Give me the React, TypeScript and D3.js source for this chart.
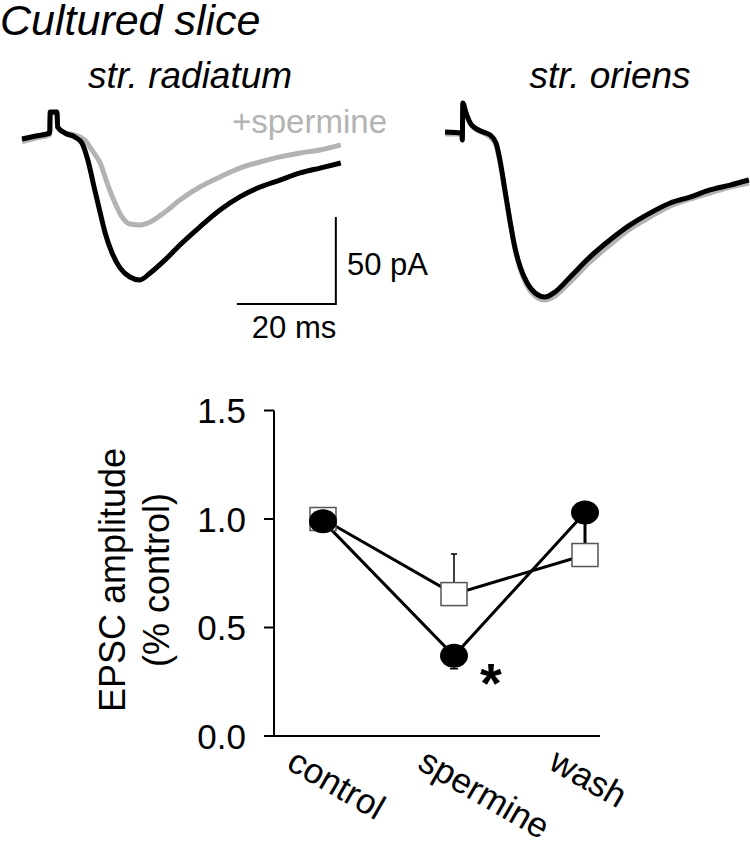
import * as d3 from 'd3';

// recordings, [time (ms), current (pA)]
const radiatumControl = [
  [0, 0], [2.8, 1.7], [5.6, 3.4], [5.7, 15.5], [7.07, 15.5], [7.2, 6.9], [8.7, 3.4],
  [10.7, 1.1], [12.1, -2.3], [13.3, -12.1], [14.7, -29.3], [15.8, -42.5], [16.8, -54.0],
  [18.2, -65.5], [19.8, -74.1], [21.8, -79.3], [23.8, -81.0], [25.9, -77.0], [28.9, -69.5],
  [31.9, -60.9], [35.9, -50.6], [40.0, -40.8], [44.0, -33.3], [48.1, -27.6], [52.1, -23.6],
  [56.2, -19.5], [60.2, -16.7], [64.4, -13.8],
];
const radiatumSpermine = [
  [0, -1.5], [2.8, 0.6], [5.6, 2.5], [5.7, 15.0], [7.07, 15.0], [7.2, 6.5], [8.7, 3.4],
  [10.7, 2.3], [12.7, -0.6], [14.1, -6.3], [15.8, -13.8], [17.2, -25.3], [18.8, -36.8],
  [20.2, -44.8], [21.8, -48.9], [23.8, -49.4], [25.9, -47.7], [28.9, -42.0], [31.9, -35.1],
  [35.9, -27.6], [40.0, -21.8], [44.0, -16.7], [48.1, -13.2], [52.1, -10.3], [56.2, -8.0],
  [60.2, -6.3], [64.4, -3.4],
];
const oriensControl = [
  [0, 0], [3.4, -0.6], [3.5, -4.6], [3.6, 16.7], [4.2, 11.5], [5.1, 5.2], [6.1, 2.3],
  [7.7, 0], [9.1, -1.7], [10.3, -6.3], [11.1, -16.1], [12.1, -33.3], [13.1, -50.6],
  [14.1, -66.1], [15.2, -77.6], [16.6, -86.8], [18.2, -92.5], [20.2, -94.8], [22.2, -92.0],
  [25.3, -83.3], [29.3, -71.8], [33.3, -62.1], [37.4, -53.4], [41.4, -46.6], [45.5, -40.8],
  [49.5, -37.4], [53.5, -33.3], [57.6, -30.5], [61.4, -27.6],
];
const oriensSpermine = [
  [0, -1.1], [3.4, -1.1], [3.5, -4.6], [3.6, 14.9], [4.2, 10.3], [5.1, 4.6], [6.1, 1.7],
  [7.7, -0.6], [9.1, -2.9], [10.3, -7.5], [11.1, -17.2], [12.1, -33.9], [13.1, -51.1],
  [14.1, -66.7], [15.2, -78.7], [16.6, -88.5], [18.2, -94.3], [20.2, -96.6], [22.2, -94.3],
  [25.3, -86.2], [29.3, -74.7], [33.3, -64.9], [37.4, -55.7], [41.4, -48.9], [45.5, -42.5],
  [49.5, -38.5], [53.5, -35.1], [57.6, -31.6], [61.4, -29.3],
];

// summary plot
const conditions = ['control', 'spermine', 'wash'];
const radiatumAmp = [0.99, 0.37, 1.03]; // filled circles
const radiatumSem = [0.01, 0.06, 0.15];
const oriensAmp = [1.0, 0.654, 0.834]; // open squares
const oriensSem = [0.01, 0.185, 0.02];
const yTicks = [0, 0.5, 1.0, 1.5];

const font = "'Liberation Sans', Arial, Helvetica, sans-serif";

export default function App() {
  const pxPerMs = 4.95;
  const pxPerPa = 1.74;

  const xL = d3.scaleLinear().domain([0, 64.4]).range([22, 22 + 64.4 * pxPerMs]);
  const yL = d3.scaleLinear().domain([0, -100]).range([139, 139 + 100 * pxPerPa]);
  const xR = d3.scaleLinear().domain([0, 61.4]).range([445, 445 + 61.4 * pxPerMs]);
  const yR = d3.scaleLinear().domain([0, -100]).range([132, 132 + 100 * pxPerPa]);

  const lineL = d3.line<number[]>().x(d => xL(d[0])).y(d => yL(d[1])).curve(d3.curveMonotoneX);
  const lineR = d3.line<number[]>().x(d => xR(d[0])).y(d => yR(d[1])).curve(d3.curveMonotoneX);

  // scale bar: 20 ms, 50 pA
  const sbT = [43.4, 63.4];
  const sbI = [-94.8, -44.8];

  const x = d3.scalePoint<string>().domain(conditions).range([323, 585]);
  const y = d3.scaleLinear().domain([0, 1.5]).range([736, 410.5]);
  const axisX = 274;

  const series = (vals: number[]) =>
    d3.line<number>().x((_, i) => x(conditions[i])!).y(d => y(d))(vals)!;

  return (
    <svg width={750} height={842} style={{ position: 'absolute', left: 0, top: 0, background: '#fff' }}
      fontFamily={font}>
      <text x={0} y={35} fontSize={43} fontStyle="italic">Cultured slice</text>
      <text x={190} y={88} fontSize={37} fontStyle="italic" textAnchor="middle">str. radiatum</text>
      <text x={610} y={88} fontSize={37} fontStyle="italic" textAnchor="middle">str. oriens</text>
      <text x={232} y={133} fontSize={33} fill="#b3b3b3">+spermine</text>

      <path d={lineL(radiatumSpermine)!} fill="none" stroke="#b3b3b3" strokeWidth={5} />
      <path d={lineL(radiatumControl)!} fill="none" stroke="#000" strokeWidth={5} />
      <path d={lineR(oriensSpermine)!} fill="none" stroke="#b3b3b3" strokeWidth={5} />
      <path d={lineR(oriensControl)!} fill="none" stroke="#000" strokeWidth={5} />

      <path d={`M${xL(sbT[0])},${yL(sbI[0])}H${xL(sbT[1])}V${yL(sbI[1])}`}
        fill="none" stroke="#000" strokeWidth={2} />
      <text x={347} y={275} fontSize={31}>50 pA</text>
      <text x={294} y={338} fontSize={31} textAnchor="middle">20 ms</text>

      {/* summary axes */}
      <line x1={axisX} x2={axisX} y1={y(1.5)} y2={y(0)} stroke="#000" strokeWidth={2} />
      <line x1={axisX - 10} x2={600} y1={y(0)} y2={y(0)} stroke="#000" strokeWidth={2} />
      {yTicks.map(t => (
        <g key={t}>
          <line x1={axisX - 10} x2={axisX} y1={y(t)} y2={y(t)} stroke="#000" strokeWidth={2} />
          <text x={246} y={y(t)} dy="0.36em" fontSize={35} textAnchor="end">{d3.format('.1f')(t)}</text>
        </g>
      ))}
      <text transform="translate(125,580) rotate(-90)" fontSize={36} textAnchor="middle">EPSC amplitude</text>
      <text transform="translate(169,580) rotate(-90)" fontSize={36} textAnchor="middle">(% control)</text>
      {conditions.map(c => (
        <text key={c} transform={`translate(${x(c)! - 38},768) rotate(30)`} fontSize={35}>{c}</text>
      ))}

      <path d={series(oriensAmp)} fill="none" stroke="#000" strokeWidth={3} />
      <path d={series(radiatumAmp)} fill="none" stroke="#000" strokeWidth={3} />

      {/* error bars: squares up, circles down */}
      {oriensAmp.map((v, i) => (
        <path key={'es' + i}
          d={`M${x(conditions[i])},${y(v)}V${y(v + oriensSem[i])}m-3,0h6`}
          fill="none" stroke="#000" strokeWidth={1.5} />
      ))}
      {radiatumAmp.map((v, i) => (
        <path key={'ec' + i}
          d={`M${x(conditions[i])},${y(v)}V${y(v - radiatumSem[i])}m-4,0h8`}
          fill="none" stroke="#000" strokeWidth={i === 2 ? 3 : 1.5} />
      ))}

      {oriensAmp.map((v, i) => (
        <rect key={'s' + i} x={x(conditions[i])! - 13} y={y(v) - 11.5} width={26} height={23}
          fill="#fff" stroke="#555" strokeWidth={1.5} />
      ))}
      {radiatumAmp.map((v, i) => (
        <ellipse key={'c' + i} cx={x(conditions[i])} cy={y(v)} rx={14} ry={12} fill="#000" />
      ))}

      <text x={491} y={702} fontSize={56} fontWeight="bold" textAnchor="middle">*</text>
    </svg>
  );
}
